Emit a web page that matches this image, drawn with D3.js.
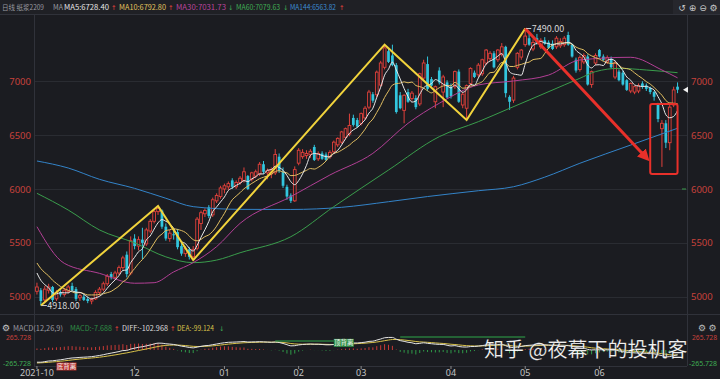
<!DOCTYPE html>
<html>
<head>
<meta charset="utf-8">
<script src="https://cdn.jsdelivr.net/npm/d3@7"></script>
<style>
  html, body { margin: 0; padding: 0; background: #1b1c21; }
  svg { display: block; }
  text { font-family: "Noto Sans CJK SC", "Noto Sans", sans-serif; }
</style>
</head>
<body>
<div id="chart"></div>
<script>
// daily candles: date, open, high, low, close
const candles = [
  ["2021-10-27",5050,5130,5020,5090],["2021-10-28",5060,5080,4918,4960],["2021-10-29",4970,5100,4950,5070],
  ["2021-11-01",5060,5120,5030,5090],["2021-11-02",5090,5100,4950,4970],["2021-11-03",4980,5060,4960,5040],
  ["2021-11-04",5040,5060,5000,5020],["2021-11-05",5020,5080,5000,5060],["2021-11-08",5050,5110,5030,5090],
  ["2021-11-09",5100,5130,5050,5060],["2021-11-10",5070,5090,4960,4980],["2021-11-11",4990,5030,4960,5010],
  ["2021-11-12",5000,5020,4960,4970],["2021-11-15",4980,5000,4940,4960],["2021-11-16",4960,4990,4930,4975],
  ["2021-11-17",4980,5060,4970,5040],["2021-11-18",5040,5090,5010,5070],["2021-11-19",5070,5140,5050,5120],
  ["2021-11-22",5120,5210,5100,5190],["2021-11-23",5210,5230,5160,5180],["2021-11-24",5180,5240,5160,5220],
  ["2021-11-25",5220,5290,5200,5270],["2021-11-26",5270,5380,5250,5360],["2021-11-29",5390,5420,5180,5210],
  ["2021-11-30",5220,5560,5200,5520],
  ["2021-12-01",5540,5580,5440,5470],["2021-12-02",5470,5560,5430,5530],["2021-12-03",5530,5640,5350,5500],
  ["2021-12-06",5490,5640,5470,5620],["2021-12-07",5610,5720,5590,5700],["2021-12-08",5700,5810,5680,5790],
  ["2021-12-09",5790,5843,5760,5820],["2021-12-10",5800,5810,5630,5650],["2021-12-13",5650,5680,5520,5540],
  ["2021-12-14",5540,5620,5510,5590],["2021-12-15",5580,5610,5530,5570],["2021-12-16",5600,5630,5440,5460],
  ["2021-12-17",5470,5510,5380,5400],["2021-12-20",5400,5470,5370,5450],["2021-12-21",5440,5460,5345,5370],
  ["2021-12-22",5370,5470,5340,5440],["2021-12-23",5450,5740,5430,5720],["2021-12-24",5680,5800,5620,5780],
  ["2021-12-27",5770,5820,5740,5800],["2021-12-28",5830,5850,5730,5750],["2021-12-29",5760,5920,5740,5900],
  ["2021-12-30",5890,5960,5870,5940],["2021-12-31",5930,6030,5910,6010],
  ["2022-01-04",6000,6050,5960,6030],["2022-01-05",6020,6070,5990,6050],["2022-01-06",6080,6100,6000,6020],
  ["2022-01-07",6020,6080,6000,6060],["2022-01-10",6060,6120,6040,6100],["2022-01-11",6080,6200,6060,6160],
  ["2022-01-12",6120,6130,5990,6000],["2022-01-13",6090,6160,6070,6150],["2022-01-14",6120,6180,6100,6160],
  ["2022-01-17",6140,6250,6120,6230],["2022-01-18",6230,6260,6140,6160],["2022-01-19",6150,6190,6090,6170],
  ["2022-01-20",6140,6200,6100,6180],["2022-01-21",6150,6370,6130,6320],["2022-01-24",6300,6330,6150,6170],
  ["2022-01-25",6160,6200,6010,6030],["2022-01-26",6020,6040,5900,5930],["2022-01-27",5940,5960,5870,5890],
  ["2022-01-28",5890,6210,5880,6180],
  ["2022-02-07",6240,6380,6220,6360],["2022-02-08",6300,6370,6280,6340],["2022-02-09",6310,6360,6280,6330],
  ["2022-02-10",6320,6370,6290,6350],["2022-02-11",6390,6410,6260,6270],["2022-02-14",6280,6350,6260,6330],
  ["2022-02-15",6330,6350,6270,6280],["2022-02-16",6320,6340,6260,6270],["2022-02-17",6300,6360,6280,6340],
  ["2022-02-18",6345,6450,6330,6435],["2022-02-21",6410,6480,6390,6470],["2022-02-22",6435,6540,6420,6530],
  ["2022-02-23",6480,6570,6460,6560],["2022-02-24",6510,6700,6490,6590],["2022-02-25",6660,6690,6580,6595],
  ["2022-02-28",6640,6660,6570,6580],
  ["2022-03-01",6610,6710,6590,6700],["2022-03-02",6660,6770,6640,6750],["2022-03-03",6760,6920,6740,6900],
  ["2022-03-04",6880,6900,6800,6820],["2022-03-07",6875,7100,6850,7085],["2022-03-08",6965,7190,6950,7170],
  ["2022-03-09",7130,7340,7110,7310],["2022-03-10",7280,7300,7170,7180],["2022-03-11",7240,7340,7140,7150],
  ["2022-03-14",7150,7170,6700,6715],["2022-03-15",6870,6900,6740,6750],["2022-03-16",6730,6880,6610,6870],
  ["2022-03-17",6900,6930,6800,6810],["2022-03-18",6840,6910,6820,6890],["2022-03-21",6845,6870,6740,6760],
  ["2022-03-22",6790,7080,6770,7070],["2022-03-23",7030,7200,7010,7170],["2022-03-24",7160,7230,6910,6930],
  ["2022-03-25",7020,7040,6950,6960],["2022-03-28",6810,6960,6750,6950],["2022-03-29",7100,7130,6970,6990],
  ["2022-03-30",6900,7060,6760,7040],["2022-03-31",6990,7010,6840,6850],
  ["2022-04-01",6950,6980,6840,6860],["2022-04-06",6950,7100,6930,7090],["2022-04-07",7090,7110,6800,6810],
  ["2022-04-08",6780,6900,6750,6880],["2022-04-11",6750,6970,6640,6960],["2022-04-12",6980,7130,6960,7120],
  ["2022-04-13",7080,7100,7030,7040],["2022-04-14",7060,7170,7040,7150],["2022-04-15",7070,7210,7050,7200],
  ["2022-04-18",7170,7300,7150,7290],["2022-04-19",7210,7280,7190,7260],["2022-04-20",7260,7280,7120,7130],
  ["2022-04-21",7200,7300,7180,7290],["2022-04-22",7250,7355,7230,7320],["2022-04-25",7320,7330,6850,6890],
  ["2022-04-26",6855,6870,6735,6810],["2022-04-27",6825,7050,6800,7030],["2022-04-28",7130,7270,7110,7260],
  ["2022-04-29",7225,7300,7200,7290],
  ["2022-05-05",7340,7490,7320,7420],["2022-05-06",7400,7440,7330,7340],["2022-05-09",7300,7390,7280,7360],
  ["2022-05-10",7400,7440,7340,7350],["2022-05-11",7320,7400,7300,7380],["2022-05-12",7380,7410,7340,7350],
  ["2022-05-13",7360,7380,7300,7310],["2022-05-16",7350,7380,7290,7300],["2022-05-17",7320,7420,7300,7400],
  ["2022-05-18",7330,7400,7310,7370],["2022-05-19",7340,7420,7320,7400],["2022-05-20",7430,7460,7330,7340],
  ["2022-05-23",7340,7350,7220,7230],["2022-05-24",7200,7220,7080,7100],["2022-05-25",7110,7240,7090,7220],
  ["2022-05-26",7180,7260,7160,7240],["2022-05-27",7230,7250,6960,6970],["2022-05-30",6970,7100,6940,7090],
  ["2022-05-31",7170,7260,7150,7240],
  ["2022-06-01",7290,7300,7220,7230],["2022-06-02",7230,7250,7190,7200],["2022-06-06",7180,7240,7160,7220],
  ["2022-06-07",7210,7230,7120,7130],["2022-06-08",7040,7190,7020,7170],["2022-06-09",7090,7110,7000,7010],
  ["2022-06-10",7080,7100,6960,6970],["2022-06-13",7010,7020,6910,6920],["2022-06-14",6910,6990,6890,6980],
  ["2022-06-15",6900,6960,6880,6950],["2022-06-16",6910,6980,6890,6960],["2022-06-17",6980,7000,6930,6950],
  ["2022-06-20",6960,6980,6910,6930],["2022-06-21",6940,6950,6880,6900],["2022-06-22",6900,6910,6820,6856],
  ["2022-06-23",6790,6800,6620,6650],["2022-06-24",6560,6640,6205,6610],["2022-06-27",6610,6640,6380,6430],
  ["2022-06-28",6430,6780,6360,6760],["2022-06-29",6780,6950,6760,6920],["2022-06-30",6950,6990,6890,6922]
];

// closes before the first visible day (feed MA5 / MA10 at the left edge)
const preCloses = [5480, 5440, 5400, 5370, 5340, 5300, 5270, 5240, 5200];

// long moving averages: [candle index, value]
const ma30Pts = [[0,5650],[7,5310],[16,5217],[25,5125],[30,5130],[35,5230],[40,5316],[46,5465],[52,5681],
  [65,5929],[75,6130],[86,6331],[95,6610],[103,6796],[113,6966],[122,7003],[131,7058],[139,7198],[152,7223],[160,7105],[164,7032]];
const ma60Pts = [[0,5960],[8,5805],[16,5620],[25,5500],[33,5370],[40,5316],[46,5340],[52,5408],[65,5557],
  [76,5836],[90,6176],[103,6486],[113,6625],[121,6749],[126,6826],[135,6966],[139,7028],[143,7090],[149,7120],[156,7105],[164,7080]];
const ma144Pts = [[0,6260],[8,6195],[16,6090],[25,6006],[33,5914],[40,5836],[52,5811],[65,5810],[78,5830],
  [90,5882],[100,5930],[113,5984],[122,6021],[130,6110],[139,6239],[152,6408],[164,6564]];

// MACD(12,26,9) state on the day before the first candle
const macdSeed = { ema12: 5215, ema26: 5480, dea: -275 };
const macdLimit = 265.728;

const priceTicks = [5000, 5500, 6000, 6500, 7000];

// hand-drawn annotations: [candle index, price]
const zigzag = [[1,4918],[31,5843],[40,5340],[89,7340],[110,6640],[125,7490]];
const downArrow = [[125,7490],[156,6290]];
const box = { from: 157, to: 164, top: 6790, bottom: 6140 };
const divergenceLines = [[61,76,188],[93,125,272]];

// header legends: text, left x, fitted width, colour
const legendTop = [
  { t: "日线 纸浆2209", x: 2, w: 42, c: "#9a9ba0" },
  { t: "MA", x: 53, w: 10, c: "#9a9ba0" },
  { t: "MA5:6728.40", x: 64, w: 45, c: "#e6e6e6" },
  { t: "MA10:6792.80", x: 119, w: 47, c: "#e3c35e" },
  { t: "MA30:7031.73", x: 176, w: 50, c: "#b9449d" },
  { t: "MA60:7079.63", x: 236, w: 44, c: "#3fae54" },
  { t: "MA144:6563.82", x: 290, w: 46, c: "#3d8bd2" }
];
const arrowsTop = [
  { t: "↑", x: 111, c: "#e0413b" }, { t: "↑", x: 168, c: "#e0413b" }, { t: "↓", x: 228, c: "#3fae54" },
  { t: "↓", x: 283, c: "#3fae54" }, { t: "↑", x: 339, c: "#e0413b" }
];
const legendMacd = [
  { t: "MACD(12,26,9)", x: 13, w: 50, c: "#9a9ba0" },
  { t: "MACD:-7.688", x: 70, w: 42, c: "#2f8f45" },
  { t: "DIFF:-102.968", x: 122, w: 46, c: "#dddddd" },
  { t: "DEA:-99.124", x: 177, w: 37, c: "#d9c24a" }
];
const arrowsMacd = [
  { t: "↑", x: 114, c: "#e0413b" }, { t: "↑", x: 170, c: "#e0413b" }, { t: "↓", x: 219, c: "#3fae54" }
];

const W = 720, H = 379;
const BG = '#1b1c21', UP = '#e0413b', DOWN = '#32c6de', GRID = '#2a2c32', LINE = '#30323a';

const svg = d3.select('#chart').append('svg').attr('width', W).attr('height', H);
svg.append('rect').attr('width', W).attr('height', H).attr('fill', BG);

// header strip
svg.append('rect').attr('width', W).attr('height', 14).attr('fill', '#1f2025');
svg.append('rect').attr('x', 673).attr('width', 47).attr('height', 14).attr('fill', '#26272d');
svg.append('line').attr('x1', 0).attr('x2', W).attr('y1', 14.5).attr('y2', 14.5).attr('stroke', LINE);

const dates = candles.map(d => d[0]);
const x = d3.scaleBand().domain(dates).range([35, 679.5]).paddingInner(0.3).paddingOuter(0.15);
const bw = x.bandwidth();
const cx = i => x(dates[i]) + bw / 2;
const y = d3.scaleLinear().domain([5000, 7000]).range([296.7, 81.3]);
const ym = d3.scaleLinear().domain([-macdLimit, macdLimit]).range([362.7, 337.3]);

const defs = svg.append('defs');
defs.append('clipPath').attr('id', 'clipMain').append('rect').attr('x', 34).attr('y', 15).attr('width', 653).attr('height', 299);
defs.append('clipPath').attr('id', 'clipMacd').append('rect').attr('x', 34).attr('y', 333).attr('width', 653).attr('height', 33);
defs.append('marker').attr('id', 'arrowHead').attr('viewBox', '0 0 10 10').attr('refX', 6).attr('refY', 5)
  .attr('markerWidth', 4).attr('markerHeight', 4).attr('orient', 'auto')
  .append('path').attr('d', 'M0,0L10,5L0,10z').attr('fill', '#e8302a');

// frame lines
svg.append('line').attr('x1', 34.5).attr('x2', 34.5).attr('y1', 15).attr('y2', 366).attr('stroke', LINE);
svg.append('line').attr('x1', 687.5).attr('x2', 687.5).attr('y1', 15).attr('y2', 366).attr('stroke', LINE);
svg.append('line').attr('x1', 0).attr('x2', W).attr('y1', 314.5).attr('y2', 314.5).attr('stroke', LINE);
svg.append('line').attr('x1', 34).attr('x2', 687).attr('y1', 366.5).attr('y2', 366.5).attr('stroke', LINE);

// grid
svg.append('g').selectAll('line').data(priceTicks).join('line')
  .attr('x1', 35).attr('x2', 687).attr('y1', d => Math.round(y(d)) + 0.5).attr('y2', d => Math.round(y(d)) + 0.5)
  .attr('stroke', GRID);

// price axes
const styleAxis = (g, color) => {
  g.select('.domain').remove();
  g.selectAll('.tick line').remove();
  g.selectAll('text').attr('fill', color).attr('font-size', 9.5)
    .style('font-family', '"Noto Sans", sans-serif');
};
svg.append('g').attr('transform', 'translate(34,0)')
  .call(d3.axisLeft(y).tickValues(priceTicks).tickSize(0).tickPadding(3).tickFormat(d3.format('d')))
  .call(g => styleAxis(g, '#c8423c'));
svg.append('g').attr('transform', 'translate(687,0)')
  .call(d3.axisRight(y).tickValues(priceTicks).tickSize(0).tickPadding(4).tickFormat(d3.format('d')))
  .call(g => styleAxis(g, '#c8423c'));

// candles
const main = svg.append('g').attr('clip-path', 'url(#clipMain)');
const cg = main.selectAll('g.candle').data(candles).join('g').attr('class', 'candle');
cg.append('line')
  .attr('x1', d => x(d[0]) + bw / 2).attr('x2', d => x(d[0]) + bw / 2)
  .attr('y1', d => y(d[2])).attr('y2', d => y(d[3]))
  .attr('stroke', d => d[4] >= d[1] ? UP : DOWN).attr('stroke-width', 1);
cg.append('rect')
  .attr('x', d => x(d[0])).attr('width', bw)
  .attr('y', d => y(Math.max(d[1], d[4])))
  .attr('height', d => Math.max(0.8, Math.abs(y(d[1]) - y(d[4]))))
  .attr('fill', d => d[4] >= d[1] ? BG : DOWN)
  .attr('stroke', d => d[4] >= d[1] ? UP : 'none').attr('stroke-width', 0.9);

// moving averages
const allCloses = preCloses.concat(candles.map(d => d[4]));
const sma = n => candles.map((d, i) => {
  const end = i + preCloses.length + 1;
  return [i, d3.mean(allCloses.slice(Math.max(0, end - n), end))];
});
const maLine = d3.line().x(d => cx(d[0])).y(d => y(d[1])).curve(d3.curveMonotoneX);
const maSeries = [
  { pts: ma144Pts, c: '#3383c8' },
  { pts: ma60Pts, c: '#3a9d4c' },
  { pts: ma30Pts, c: '#b23f95' },
  { pts: sma(10), c: '#e2bf62' },
  { pts: sma(5), c: '#e8e8e8' }
];
main.selectAll('path.ma').data(maSeries).join('path').attr('class', 'ma')
  .attr('d', d => maLine(d.pts)).attr('fill', 'none').attr('stroke', d => d.c).attr('stroke-width', 1);

// annotations
const annLine = d3.line().x(d => cx(d[0])).y(d => y(d[1]));
main.append('path').attr('d', annLine(zigzag)).attr('fill', 'none')
  .attr('stroke', '#f1d33c').attr('stroke-width', 2).attr('stroke-linejoin', 'miter');
main.append('path').attr('d', annLine(downArrow)).attr('fill', 'none')
  .attr('stroke', '#e8302a').attr('stroke-width', 3).attr('marker-end', 'url(#arrowHead)');
main.append('rect').attr('x', cx(box.from)).attr('y', y(box.top))
  .attr('width', cx(box.to) - cx(box.from)).attr('height', y(box.bottom) - y(box.top))
  .attr('rx', 2).attr('fill', 'none').attr('stroke', '#e8302a').attr('stroke-width', 2);

// high / low markers
const extremes = [[125, 7490], [1, 4918]];
extremes.forEach(([i, v]) => {
  main.append('line').attr('x1', cx(i) + 1).attr('x2', cx(i) + 6).attr('y1', y(v)).attr('y2', y(v))
    .attr('stroke', '#cfcfcf');
  main.append('text').attr('x', cx(i) + 6.5).attr('y', y(v) + 3.5).attr('fill', '#d8d8d8')
    .attr('font-size', 9).text(d3.format('.2f')(v));
});

// last price marker
const lastClose = candles[candles.length - 1][4];
svg.append('path').attr('d', `M${683},${y(lastClose)}l5,-3v6z`).attr('fill', '#f0f0f0');
svg.append('line').attr('x1', 682).attr('x2', 686).attr('y1', y(6000)).attr('y2', y(6000)).attr('stroke', '#3a9d4c');

// legends
const legendText = (items, yy) => svg.append('g').selectAll('text').data(items).join('text')
  .attr('x', d => d.x).attr('y', yy).attr('fill', d => d.c).attr('font-size', 7.2)
  .attr('textLength', d => d.w).attr('lengthAdjust', 'spacingAndGlyphs').text(d => d.t);
const arrowText = (items, yy) => svg.append('g').selectAll('text').data(items).join('text')
  .attr('x', d => d.x).attr('y', yy).attr('fill', d => d.c).attr('font-size', 6.5)
  .style('font-family', '"DejaVu Sans"').text(d => d.t);
legendText(legendTop, 10);
arrowText(arrowsTop, 10);
svg.append('g').selectAll('text').data(['↺', '⊕', '⊖', '⚙']).join('text')
  .attr('x', (d, i) => 682 + i * 10.5).attr('y', 10.5).attr('text-anchor', 'middle')
  .attr('fill', '#c8c8c8').attr('font-size', 9)
  .style('font-family', '"DejaVu Sans"').text(d => d);

// MACD panel
svg.append('text').attr('x', 2).attr('y', 330.5).attr('fill', '#c8c8c8').attr('font-size', 9)
  .style('font-family', '"DejaVu Sans"').text('⚙');
legendText(legendMacd, 330.5);
arrowText(arrowsMacd, 330.5);
svg.append('g').selectAll('text').data(['⚙', '⚙']).join('text')
  .attr('x', (d, i) => 702 + i * 10.5).attr('y', 330.5).attr('text-anchor', 'middle')
  .attr('fill', '#bdbdbd').attr('font-size', 9)
  .style('font-family', '"DejaVu Sans"').text(d => d);

let e12 = macdSeed.ema12, e26 = macdSeed.ema26, dea = macdSeed.dea;
const macd = candles.map((d, i) => {
  e12 = e12 * 11 / 13 + d[4] * 2 / 13;
  e26 = e26 * 25 / 27 + d[4] * 2 / 27;
  const diff = e12 - e26;
  dea = dea * 0.8 + diff * 0.2;
  return { i, diff, dea, bar: 2 * (diff - dea) };
});

const mg = svg.append('g').attr('clip-path', 'url(#clipMacd)');
mg.selectAll('line.bar').data(macd).join('line').attr('class', 'bar')
  .attr('x1', d => cx(d.i)).attr('x2', d => cx(d.i))
  .attr('y1', ym(0)).attr('y2', d => ym(d.bar))
  .attr('stroke', d => d.bar >= 0 ? '#c93a36' : '#2f9a48').attr('stroke-width', 1);
mg.append('path').attr('d', d3.line().x(d => cx(d.i)).y(d => ym(d.dea)).curve(d3.curveMonotoneX)(macd))
  .attr('fill', 'none').attr('stroke', '#d9c24a').attr('stroke-width', 1);
mg.append('path').attr('d', d3.line().x(d => cx(d.i)).y(d => ym(d.diff)).curve(d3.curveMonotoneX)(macd))
  .attr('fill', 'none').attr('stroke', '#e4e4e4').attr('stroke-width', 1);
mg.selectAll('line.div').data(divergenceLines).join('line').attr('class', 'div')
  .attr('x1', d => cx(d[0])).attr('x2', d => cx(d[1])).attr('y1', d => ym(d[2])).attr('y2', d => ym(d[2]))
  .attr('stroke', '#2fa84a').attr('stroke-width', 1.2);

// divergence tags
const tags = [
  { t: '底背离', i: 5, v: -345, bg: '#b8302c' },
  { t: '顶背离', i: 76, v: 150, bg: '#2f8f45' }
];
tags.forEach(d => {
  const g = svg.append('g').attr('transform', `translate(${cx(d.i)},${ym(d.v)})`);
  g.append('rect').attr('x', 0).attr('y', -4).attr('width', 20).attr('height', 8).attr('fill', d.bg);
  g.append('text').attr('x', 10).attr('y', 2.5).attr('text-anchor', 'middle').attr('fill', '#f3f3f3')
    .attr('font-size', 6.5).text(d.t);
});

// MACD scale labels
const macdLabels = [
  { t: macdLimit.toFixed(3), v: macdLimit, w: 25, c: '#c8423c' },
  { t: (-macdLimit).toFixed(3), v: -macdLimit, w: 28, c: '#3fae54' }
];
[31, 717].forEach(xx => {
  svg.append('g').selectAll('text').data(macdLabels).join('text')
    .attr('x', d => xx - d.w).attr('y', d => ym(d.v) + 3)
    .attr('fill', d => d.c).attr('font-size', 7)
    .attr('textLength', d => d.w).attr('lengthAdjust', 'spacingAndGlyphs')
    .style('font-family', '"Noto Sans", sans-serif').text(d => d.t);
});

// date axis: first trading day of each month, skip crowded labels
const monthStarts = [];
let lastX = -Infinity;
dates.forEach((d, i) => {
  if (i === 0 || d.slice(0, 7) !== dates[i - 1].slice(0, 7)) {
    if (cx(i) - lastX > 40) { monthStarts.push(d); lastX = cx(i); }
  }
});
svg.append('g').attr('transform', 'translate(0,366)')
  .call(d3.axisBottom(x).tickValues(monthStarts).tickSize(3).tickPadding(1)
    .tickFormat((d, i) => i === 0 ? d.slice(0, 7) : d.slice(5, 7)))
  .call(g => {
    g.select('.domain').remove();
    g.selectAll('.tick line').attr('stroke', '#8a8a8a');
    g.selectAll('text').attr('fill', '#c4c4c4').attr('font-size', 9)
      .style('font-family', '"Noto Sans", sans-serif');
  });

// watermark
svg.append('text').attr('x', 484).attr('y', 357).attr('fill', '#ffffff').attr('font-size', 20)
  .attr('stroke', 'rgba(0,0,0,0.35)').attr('stroke-width', 0.6)
  .text('知乎 @夜幕下的投机客');
</script>
</body>
</html>
